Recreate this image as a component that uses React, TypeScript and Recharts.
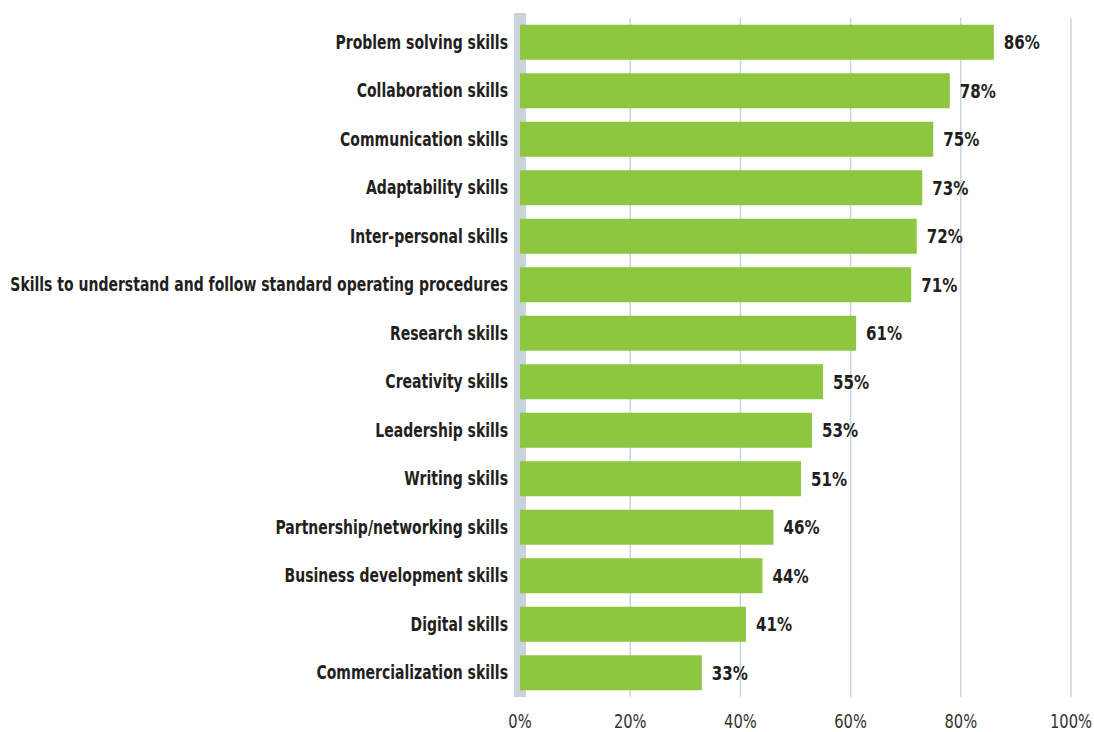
import { BarChart, Bar, XAxis, YAxis, CartesianGrid, LabelList } from 'recharts'

const skills = [
  'Problem solving skills',
  'Collaboration skills',
  'Communication skills',
  'Adaptability skills',
  'Inter-personal skills',
  'Skills to understand and follow standard operating procedures',
  'Research skills',
  'Creativity skills',
  'Leadership skills',
  'Writing skills',
  'Partnership/networking skills',
  'Business development skills',
  'Digital skills',
  'Commercialization skills',
]

const shares = [86, 78, 75, 73, 72, 71, 61, 55, 53, 51, 46, 44, 41, 33]

const xTicks = [0, 20, 40, 60, 80, 100]

const data = skills.map((skill, i) => ({ skill, share: shares[i] }))

const FONT = '"DejaVu Sans Condensed", "DejaVu Sans", sans-serif'
const GRID = '#c9d3dc'
const INK = '#231f20'

// condensed look: squeeze the glyphs horizontally around the anchor point
function SkillTick({ x, y, payload }: any) {
  return (
    <g transform={`translate(${x},${y})`}>
      <text
        transform="scale(0.82,1)"
        textAnchor="end"
        dy="0.35em"
        fontSize={19}
        fontWeight={700}
        fontFamily={FONT}
        fill={INK}
      >
        {payload.value}
      </text>
    </g>
  )
}

function PercentTick({ x, y, payload }: any) {
  return (
    <g transform={`translate(${x},${y})`}>
      <text
        transform="scale(0.86,1)"
        textAnchor="middle"
        dy="0.35em"
        fontSize={19}
        fontFamily={FONT}
        fill="#333"
      >
        {`${payload.value}%`}
      </text>
    </g>
  )
}

function ValueLabel({ x, y, width, height, value }: any) {
  return (
    <g transform={`translate(${x + width + 10},${y + height / 2})`}>
      <text
        transform="scale(0.84,1)"
        dy="0.36em"
        fontSize={20}
        fontWeight={700}
        fontFamily={FONT}
        fill={INK}
      >
        {`${value}%`}
      </text>
    </g>
  )
}

// grid behind the bars; the 0% line is the thick grey band the bars sit on
function GridLine(props: any) {
  const { x1, y1, x2, y2, index } = props
  const base = index === 0
  return (
    <line
      x1={x1}
      x2={x2}
      y1={base ? y1 - 5 : y1}
      y2={y2}
      stroke={GRID}
      strokeWidth={base ? 12 : 1.5}
    />
  )
}

export default function App() {
  return (
    <div style={{ position: 'absolute', top: 0, left: 0, background: '#fff' }}>
      <BarChart
        width={1094}
        height={732}
        data={data}
        layout="vertical"
        margin={{ top: 18, right: 23, left: 0, bottom: 5 }}
        barCategoryGap="14%"
      >
        <CartesianGrid horizontal={false} vertical={GridLine} />
        <XAxis
          type="number"
          domain={[0, 100]}
          ticks={xTicks}
          axisLine={false}
          tickLine={false}
          height={30}
          tickMargin={18}
          tick={<PercentTick />}
        />
        <YAxis
          type="category"
          dataKey="skill"
          width={520}
          axisLine={false}
          tickLine={false}
          tickMargin={6}
          tick={<SkillTick />}
          interval={0}
        />
        <Bar dataKey="share" fill="#8dc63f" isAnimationActive={false}>
          <LabelList dataKey="share" content={<ValueLabel />} />
        </Bar>
      </BarChart>
    </div>
  )
}
